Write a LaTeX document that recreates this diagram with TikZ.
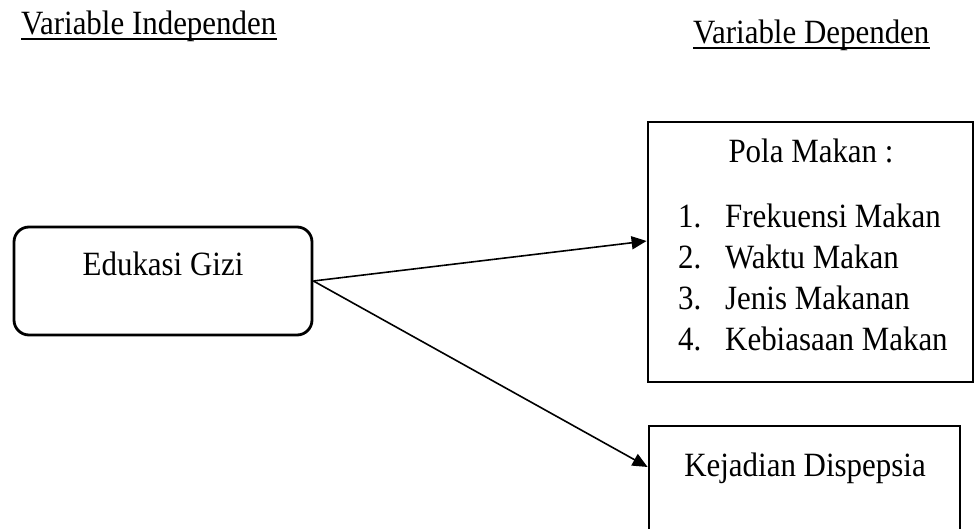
\documentclass[tikz,border=0pt]{standalone}
\usepackage{fontspec}
\setmainfont{Liberation Serif}
\usetikzlibrary{arrows.meta}

\tikzset{
  kotak/.style={draw, line width=2.8pt, inner sep=0pt},
  teks/.style={inner sep=0pt, xscale=0.91, transform shape, font=\fontsize{34pt}{40pt}\selectfont},
  panah/.style={line width=1.6pt, -{Triangle[length=15pt,width=13pt]}},
  garis/.style={line width=2pt}
}

\begin{document}
\begin{tikzpicture}[x=1pt,y=1pt]
  \useasboundingbox (0,0) rectangle (974,529);
  \clip (0,0) rectangle (974,529);

  % Judul variabel
  \node[teks, anchor=base west] (indep) at (21,494) {Variable Independen};
  \node[teks, anchor=base west] (dep) at (693,485) {Variable Dependen};
  \draw[garis] ([yshift=-4pt]indep.base west) -- ([yshift=-4pt]indep.base east);
  \draw[garis] ([yshift=-4pt]dep.base west) -- ([yshift=-4pt]dep.base east);

  % Kotak
  \node[kotak, rounded corners=15pt, minimum width=298pt, minimum height=108pt] (edukasi) at (163,248) {};
  \node[kotak, minimum width=325pt, minimum height=260pt] (pola) at (810.5,277) {};
  \node[kotak, minimum width=311pt, minimum height=140pt] (dispepsia) at (804.5,33) {};

  % Isi kotak
  \node[teks, anchor=base] (tEdukasi) at (163,253) {Edukasi Gizi};
  \node[teks, anchor=base] (tPola) at (811,366) {Pola Makan :};
  \foreach \i/\t in {1/Frekuensi Makan, 2/Waktu Makan, 3/Jenis Makanan, 4/Kebiasaan Makan} {
    \node[teks, anchor=base west] (no\i) at (678,{301-41*(\i-1)}) {\i.};
    \node[teks, anchor=base west] (item\i) at (725,{301-41*(\i-1)}) {\t};
  }
  \node[teks, anchor=base] (tDispepsia) at (805,52) {Kejadian Dispepsia};

  % Panah
  \draw[panah] (edukasi.east) -- ([yshift=11pt]pola.west);
  \draw[panah] (edukasi.east) -- ([yshift=29pt]dispepsia.west);
\end{tikzpicture}
\end{document}
